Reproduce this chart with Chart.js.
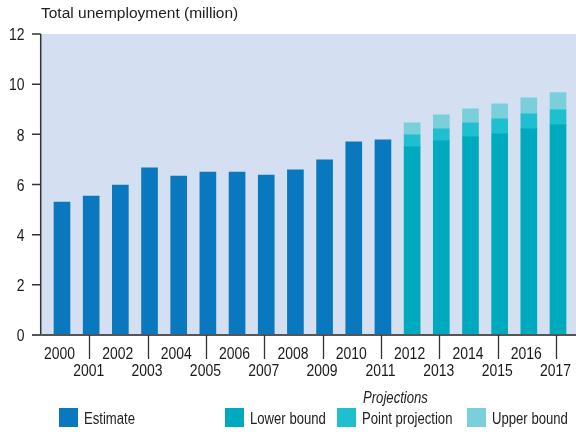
<!DOCTYPE html>
<html>
<head>
<meta charset="utf-8">
<script src="https://cdn.jsdelivr.net/npm/chart.js@4/dist/chart.umd.min.js"></script>
<style>
  body { margin: 0; background: #fff; }
  canvas { display: block; }
</style>
</head>
<body>
<canvas id="chart" width="576" height="432"></canvas>
<script>
// years on the x axis
var years = ['2000', '2001', '2002', '2003', '2004', '2005', '2006', '2007', '2008',
  '2009', '2010', '2011', '2012', '2013', '2014', '2015', '2016', '2017'];

// estimates 2000-2011 (million)
var estimate = [5.3, 5.54, 5.98, 6.66, 6.34, 6.5, 6.5, 6.38, 6.58, 6.98, 7.7, 7.78];

// projections 2012-2017 (million)
var lowerBound = [7.5, 7.74, 7.9, 8.02, 8.22, 8.38];
var pointProjection = [7.98, 8.22, 8.46, 8.62, 8.82, 8.98];
var upperBound = [8.46, 8.78, 9.02, 9.22, 9.46, 9.66];

var yTicks = [0, 2, 4, 6, 8, 10, 12];

// no narrow face installed, so squeeze Liberation Sans horizontally
var PLAIN = '"Liberation Sans", Arial, sans-serif';
var SQUEEZE = 0.82;

var nEst = estimate.length;
function pad(arr) {
  var out = [];
  for (var i = 0; i < nEst; i++) out.push(null);
  return out.concat(arr);
}

var estData = estimate.concat(lowerBound.map(function () { return null; }));
var lowData = pad(lowerBound.map(function (v) { return [0, v]; }));
var ptData = pad(pointProjection.map(function (v, i) { return [lowerBound[i], v]; }));
var upData = pad(upperBound.map(function (v, i) { return [pointProjection[i], v]; }));

var legendBoxX = [59, 225, 337, 467];

function narrowText(ctx, txt, x, y, align) {
  ctx.save();
  ctx.translate(x, y);
  ctx.scale(SQUEEZE, 1);
  ctx.textAlign = align;
  ctx.fillText(txt, 0, 0);
  ctx.restore();
}

var decor = {
  id: 'decor',
  beforeDraw: function (chart) {
    var ctx = chart.ctx, y = chart.scales.y;
    var top = y.getPixelForValue(12), bottom = y.getPixelForValue(0);
    ctx.save();
    ctx.fillStyle = '#d4dff1';
    ctx.fillRect(40.7, top, chart.width - 40.7, bottom - top);
    ctx.restore();
  },
  afterDraw: function (chart) {
    var ctx = chart.ctx, x = chart.scales.x, y = chart.scales.y;
    var top = y.getPixelForValue(12), bottom = y.getPixelForValue(0);
    ctx.save();
    ctx.strokeStyle = '#333';
    ctx.lineWidth = 1.5;
    // y axis line and ticks
    ctx.beginPath();
    ctx.moveTo(40.7, top);
    ctx.lineTo(40.7, bottom);
    yTicks.forEach(function (v) {
      var py = y.getPixelForValue(v);
      ctx.moveTo(32, py);
      ctx.lineTo(40.7, py);
    });
    ctx.stroke();
    // x axis line
    ctx.strokeStyle = '#555';
    ctx.lineWidth = 2;
    ctx.beginPath();
    ctx.moveTo(32, bottom);
    ctx.lineTo(chart.width, bottom);
    ctx.stroke();
    // long ticks pointing to the odd year labels
    ctx.strokeStyle = '#333';
    ctx.lineWidth = 1.3;
    ctx.beginPath();
    years.forEach(function (yr, i) {
      if (i % 2 === 1) {
        var px = Math.round(x.getPixelForValue(i)) - 2 + 0.5;
        ctx.moveTo(px, bottom);
        ctx.lineTo(px, bottom + 24);
      }
    });
    ctx.stroke();

    ctx.fillStyle = '#1a1a1a';
    ctx.textBaseline = 'alphabetic';
    ctx.font = '17px ' + PLAIN;
    // y tick labels
    yTicks.forEach(function (v) {
      narrowText(ctx, String(v), 24.5, y.getPixelForValue(v) + 6.2, 'right');
    });
    // x tick labels, staggered
    years.forEach(function (yr, i) {
      var px = x.getPixelForValue(i) - 2.5;
      narrowText(ctx, yr, px, i % 2 === 0 ? 359 : 376, 'center');
    });

    // title
    ctx.fillStyle = '#222';
    ctx.font = '15.5px ' + PLAIN;
    ctx.textAlign = 'left';
    ctx.fillText('Total unemployment (million)', 41, 18);

    // legend
    ctx.font = 'italic 16px ' + PLAIN;
    narrowText(ctx, 'Projections', 363, 403, 'left');
    ctx.font = '16px ' + PLAIN;
    chart.data.datasets.forEach(function (ds, i) {
      var bx = legendBoxX[i];
      ctx.fillStyle = ds.backgroundColor;
      ctx.fillRect(bx, 408, 19, 19);
      ctx.fillStyle = '#222';
      narrowText(ctx, ds.label, bx + 25, 424, 'left');
    });
    ctx.restore();
  }
};

new Chart(document.getElementById('chart'), {
  type: 'bar',
  data: {
    labels: years,
    datasets: [
      { label: 'Estimate', data: estData, backgroundColor: '#0a78be' },
      { label: 'Lower bound', data: lowData, backgroundColor: '#00aabe' },
      { label: 'Point projection', data: ptData, backgroundColor: '#1ebfce' },
      { label: 'Upper bound', data: upData, backgroundColor: '#79d0da' }
    ]
  },
  options: {
    responsive: false,
    animation: false,
    layout: { padding: { top: 34, right: 3.4, bottom: 0, left: 0 } },
    datasets: { bar: { grouped: false, barThickness: 16 } },
    plugins: { legend: { display: false }, tooltip: { enabled: false } },
    scales: {
      x: {
        grid: { display: false, drawTicks: false },
        border: { display: false },
        ticks: { display: false },
        afterFit: function (s) { s.height = 97; }
      },
      y: {
        min: 0, max: 12,
        grid: { display: false, drawTicks: false },
        border: { display: false },
        ticks: { display: false, stepSize: 2 },
        afterFit: function (s) { s.width = 47.4; }
      }
    }
  },
  plugins: [decor]
});
</script>
</body>
</html>
